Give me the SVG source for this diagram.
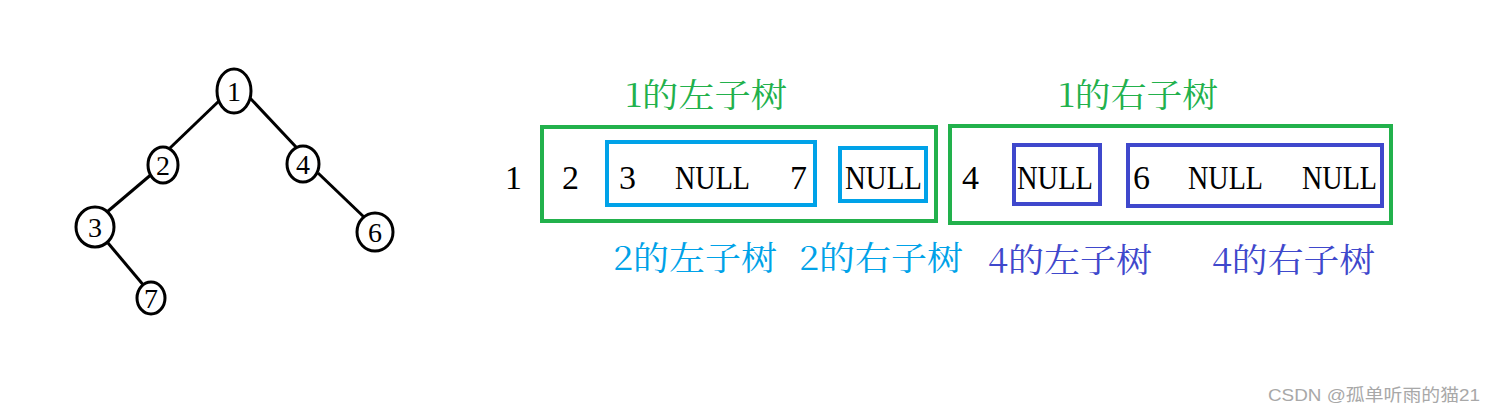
<svg xmlns="http://www.w3.org/2000/svg" width="1498" height="413" viewBox="0 0 1498 413">
<style>
.n{fill:#fff;stroke:#000;stroke-width:3}
.e{stroke:#000;stroke-width:3;fill:none}
.d{font-family:"Liberation Serif",serif;font-size:28px;fill:#000;text-anchor:middle}
.t{font-family:"Liberation Serif",serif;font-size:34px;fill:#000}
.g{fill:none;stroke:#22b14c;stroke-width:4}
.b{fill:none;stroke:#00a2e8;stroke-width:4}
.p{fill:none;stroke:#3f48cc;stroke-width:4}
.lab{font-family:"Noto Serif CJK SC","Noto Sans CJK SC",serif;font-size:33px}
.wm{font-family:"Liberation Sans","Noto Sans CJK SC",sans-serif;font-size:17px;fill:#a8a8a8}
</style>
<rect width="1498" height="413" fill="#fff"/>
<g id="edges">
<line class="e" x1="220" y1="100" x2="170" y2="148"/>
<line class="e" x1="250" y1="98" x2="297" y2="148"/>
<line class="e" x1="153" y1="173" x2="107" y2="212"/>
<line class="e" x1="318" y1="173" x2="365" y2="218"/>
<line class="e" x1="108" y1="243" x2="145" y2="287"/>
</g>
<g id="node1"><ellipse class="n" cx="234" cy="91" rx="17" ry="22"/><text class="d" x="234" y="101">1</text></g>
<g id="node2"><ellipse class="n" cx="163" cy="165" rx="15" ry="18"/><text class="d" x="163" y="175">2</text></g>
<g id="node4"><ellipse class="n" cx="303" cy="164" rx="16" ry="18"/><text class="d" x="303" y="174">4</text></g>
<g id="node3"><ellipse class="n" cx="95" cy="227" rx="19" ry="20"/><text class="d" x="95" y="237">3</text></g>
<g id="node6"><ellipse class="n" cx="375" cy="232" rx="18" ry="19"/><text class="d" x="375" y="242">6</text></g>
<g id="node7"><ellipse class="n" cx="151" cy="298" rx="14" ry="16"/><text class="d" x="151" y="308">7</text></g>

<g id="boxes">
<rect class="g" x="542" y="127" width="394" height="94"/>
<rect class="b" x="607" y="142" width="208" height="63"/>
<rect class="b" x="840" y="148" width="86" height="53"/>
<rect class="g" x="950" y="126" width="441" height="97"/>
<rect class="p" x="1014" y="145" width="86" height="59"/>
<rect class="p" x="1128" y="145" width="254" height="61"/>
</g>
<g id="seq">
<text class="t" x="505" y="189">1</text>
<text class="t" x="562" y="189">2</text>
<text class="t" x="619" y="189">3</text>
<text class="t" x="675" y="189" textLength="75" lengthAdjust="spacingAndGlyphs">NULL</text>
<text class="t" x="790" y="189">7</text>
<text class="t" x="845" y="189" textLength="77" lengthAdjust="spacingAndGlyphs">NULL</text>
<text class="t" x="962" y="189">4</text>
<text class="t" x="1017" y="189" textLength="76" lengthAdjust="spacingAndGlyphs">NULL</text>
<text class="t" x="1133" y="189">6</text>
<text class="t" x="1188" y="189" textLength="75" lengthAdjust="spacingAndGlyphs">NULL</text>
<text class="t" x="1302" y="189" textLength="75" lengthAdjust="spacingAndGlyphs">NULL</text>
</g>
<g id="labels">
<text class="lab" x="625" y="107" fill="#22b14c" textLength="162" lengthAdjust="spacingAndGlyphs">1的左子树</text>
<text class="lab" x="1058" y="107" fill="#22b14c" textLength="160" lengthAdjust="spacingAndGlyphs">1的右子树</text>
<text class="lab" x="613" y="270" fill="#00a2e8" textLength="164" lengthAdjust="spacingAndGlyphs">2的左子树</text>
<text class="lab" x="799" y="270" fill="#00a2e8" textLength="164" lengthAdjust="spacingAndGlyphs">2的右子树</text>
<text class="lab" x="988" y="272" fill="#3f48cc" textLength="164" lengthAdjust="spacingAndGlyphs">4的左子树</text>
<text class="lab" x="1212" y="272" fill="#3f48cc" textLength="163" lengthAdjust="spacingAndGlyphs">4的右子树</text>
</g>
<text class="wm" x="1268" y="401" textLength="212" lengthAdjust="spacingAndGlyphs">CSDN @孤单听雨的猫21</text>
</svg>
